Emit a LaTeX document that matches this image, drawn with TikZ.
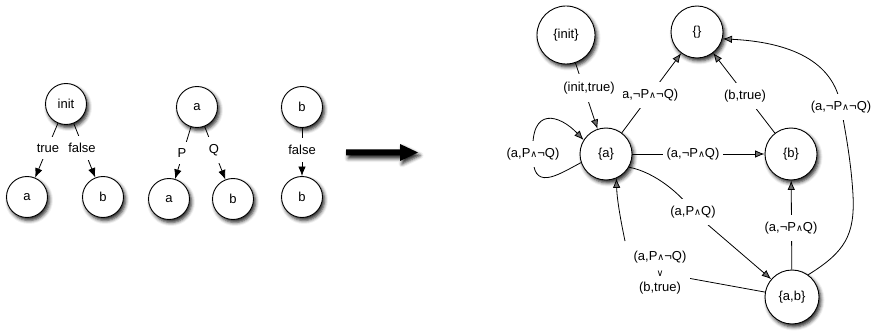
\documentclass[tikz,border=0pt]{standalone}
\usepackage{fontspec}
\setmainfont{Liberation Sans}
\newfontfamily\djv{DejaVu Sans}
\usetikzlibrary{arrows.meta,shadows.blur}
\newcommand\AND{{\djv\fontsize{9.5}{9.5}\selectfont ∧}}
\newcommand\OR{{\djv\fontsize{9.5}{9.5}\selectfont ∨}}
\begin{document}
\begin{tikzpicture}[x=1pt,y=-1pt,
  font=\fontsize{13}{15.5}\selectfont,
  shad/.style={blur shadow={shadow xshift=2pt,shadow yshift=-3pt,shadow blur radius=3.5pt,shadow opacity=85}},
  state/.style={circle,draw,fill=white,line width=0.9pt,minimum size=52pt,inner sep=0pt,shad},
  small/.style={state,minimum size=41pt},
  lbl/.style={fill=white,inner xsep=4pt,inner ysep=7pt},
  line/.style={line width=0.8pt},
  edge/.style={line,-{Latex[length=9.5pt,width=7.5pt]}}]
\useasboundingbox (0,0) rectangle (878,331);
% left trees
\node[small] (i0) at (66,104) {init};
\node[small] (a1) at (27,197) {a};
\node[small] (b1) at (103,197) {b};
\node[small] (a2) at (197,107) {a};
\node[small] (a3) at (169,199) {a};
\node[small] (b3) at (233,199) {b};
\node[small] (b4) at (302,107) {b};
\node[small] (b5) at (302,197) {b};
\draw[edge] (i0) -- (a1);
\draw[edge] (i0) -- (b1);
\draw[edge] (a2) -- (a3);
\draw[edge] (a2) -- (b3);
\draw[edge] (b4) -- (b5);
\node[lbl] (lt) at (48,148) {true};
\node[lbl] (lf) at (82,148) {false};
\node[lbl] (lp) at (182,153) {P};
\node[lbl] (lq) at (214,150) {Q};
\node[lbl] (lf2) at (302,150) {false};
% big arrow
\fill[shad] (346,149.5) -- (400,149.5) -- (400,144) -- (418,152.5) -- (400,161) -- (400,155.5) -- (346,155.5) -- cycle;
% right graph
\node[state,minimum size=58pt] (S0) at (566,35) {\{init\}};
\node[state] (E) at (697,32) {\{\}};
\node[state] (A) at (606,154) {\{a\}};
\node[state] (B) at (791,154) {\{b\}};
\node[state,minimum size=54pt] (AB) at (792,297) {\{a,b\}};
\coordinate (pIT) at (589,88);
\coordinate (pAE) at (648,95);
\coordinate (pBE) at (745,96);
\coordinate (pAB) at (693,154);
\coordinate (pL) at (533,154);
\coordinate (pAAB) at (693,212);
\coordinate (pABB) at (791,228);
\coordinate (pABE) at (841,107);
\coordinate (pABA) at (660,273);
\coordinate (cABA) at (625,241);
\draw[edge] (S0) -- (A);
\draw[edge] (A) -- (E);
\draw[edge] (B) -- (E);
\draw[edge] (A) -- (B);
\draw[edge] (AB) -- (B);
\draw[edge] (A.199) .. controls (556,176) and (532,192) .. (pL) .. controls (530,105) and (560,115) .. (A.148);
\draw[edge] (A.-30) .. controls (655,172) and (682,195) .. (pAAB) -- (AB);
\draw[edge] (AB.54) .. controls (845,252) and (855,235) .. (853,195) .. controls (851,160) and (845,130) .. (pABE) .. controls (834,60) and (788,42) .. (E.-15);
\draw[line] (AB) -- (pABA);
\draw[edge] (cABA) .. controls (621,222) and (617,200) .. (A.-67);
\node[lbl] (lAE) at (pAE) {(a,¬P\AND{}¬Q)};
\node[lbl,inner xsep=8pt,inner ysep=8pt] (lIT) at (pIT) {(init,true)};
\node[lbl] (lBE) at (pBE) {(b,true)};
\node[lbl] (lAB) at (pAB) {(a,¬P\AND{}Q)};
\node[lbl] (lL) at (pL) {(a,P\AND{}¬Q)};
\node[lbl] (lAAB) at (pAAB) {(a,P\AND{}Q)};
\node[lbl] (lABB) at (pABB) {(a,¬P\AND{}Q)};
\node[lbl] (lABE) at (pABE) {(a,¬P\AND{}¬Q)};
\node[lbl,align=center,inner ysep=2pt] (lABA) at (pABA) {(a,P\AND{}¬Q)\\\OR\\(b,true)};
\end{tikzpicture}
\end{document}
